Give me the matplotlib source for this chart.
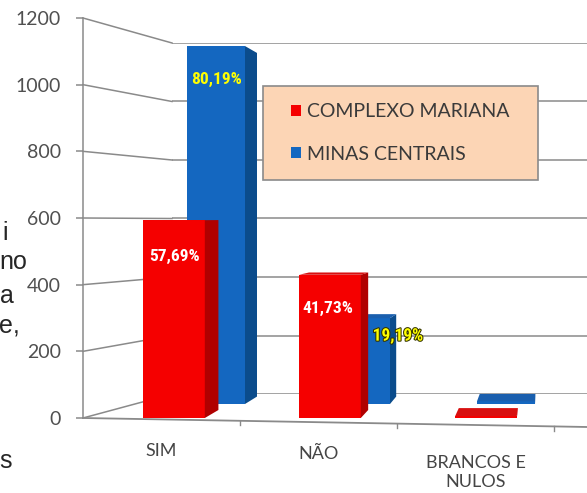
import matplotlib
matplotlib.use('Agg')
import matplotlib.pyplot as plt
from matplotlib.patches import Polygon, Patch, Rectangle
from matplotlib.lines import Line2D
import matplotlib.patheffects as pe
import numpy as np

# ---------------- data ----------------
categories = ['SIM', 'NÃO', 'BRANCOS E\nNULOS']
series_names = ['COMPLEXO MARIANA', 'MINAS CENTRAIS']
mariana_votes = [598, 433, 6]
minas_votes = [1180, 283, 9]
mariana_labels = ['57,69%', '41,73%', '']
minas_labels = ['80,19%', '19,19%', '']
y_ticks = [0, 200, 400, 600, 800, 1000, 1200]
side_text = ['i', 'no', 'a', 'e,', 's']

# ---------------- style ----------------
W, H, DPI = 587, 493, 100
RED, RED_SIDE, RED_TOP = '#F50000', '#B00000', '#D81010'
BLUE, BLUE_SIDE, BLUE_TOP = '#1467C0', '#0B4C8C', '#1A5FAE'
GRID = '#8A8A8A'
TXT = '#505050'
FONT = ['Lato', 'DejaVu Sans']
NARROW = ['Liberation Sans Narrow', 'Roboto Condensed', 'DejaVu Sans']

fig = plt.figure(figsize=(W / DPI, H / DPI), dpi=DPI)


def ax_px(left, right, y0, ytop, z):
    a = fig.add_axes([left / W, (H - y0) / H, (right - left) / W, (y0 - ytop) / H], zorder=z)
    a.patch.set_alpha(0)
    for s in a.spines.values():
        s.set_visible(False)
    a.set_xticks([])
    a.set_yticks([])
    return a


# back wall (gridlines)
wall = ax_px(172, 587, 394, 43, 0)
wall.set_ylim(0, 1200)
wall.set_xlim(0, 1)
for t in y_ticks:
    wall.axhline(t, color=GRID, lw=1.1, zorder=0)

# front frame (axis, ticks, labels)
frame = ax_px(83, 587, 418, 18, 1)
frame.set_ylim(0, 1200)
frame.set_xlim(-0.5, 2.71)
frame.spines['left'].set_visible(True)
frame.spines['left'].set_color(GRID)
frame.spines['left'].set_linewidth(1.1)
frame.set_yticks(y_ticks)
frame.set_yticklabels([str(t) for t in y_ticks], fontsize=14, color=TXT, family=FONT)
frame.tick_params(axis='y', length=5, width=1.1, color=GRID, pad=11)

# sloped floor line and category ticks
floor_drop = -27.0
x0f, x1f = frame.get_xlim()
frame.plot([x0f, x1f], [0, floor_drop], color=GRID, lw=1.3, clip_on=False, zorder=1)
for b in [0.5, 1.5, 2.5]:
    yb = floor_drop * (b - x0f) / (x1f - x0f)
    frame.plot([b, b], [yb, yb - 14], color=GRID, lw=1.0, clip_on=False)
for i, c in enumerate(categories):
    yb = floor_drop * (i - x0f) / (x1f - x0f)
    frame.text(i, yb - 94 - (48 if '\n' in c else 0), c, ha='center', va='center',
               fontsize=13, color='#454545', family=FONT, linespacing=1.25)

# diagonal lines on the left wall
inv = fig.transFigure.inverted()
for t in y_ticks:
    p1 = frame.transData.transform((x0f, t))
    p2 = wall.transData.transform((0, t))
    p1f, p2f = inv.transform(p1), inv.transform(p2)
    fig.add_artist(Line2D([p1f[0], p2f[0]], [p1f[1], p2f[1]], color=GRID, lw=1.1, zorder=0.5))

# bar planes
blue_ax = ax_px(143.5, 578.5, 404, 40, 2)
blue_ax.set_xlim(-0.5, 2.5)
blue_ax.set_ylim(0, 1200)
red_ax = ax_px(96, 564, 418, 21, 3)
red_ax.set_xlim(-0.5, 2.5)
red_ax.set_ylim(0, 1200)

x = np.arange(len(categories))
blue_bars = blue_ax.bar(x, minas_votes, width=0.40, color=BLUE, zorder=2)
red_bars = red_ax.bar(x, mariana_votes, width=0.395, color=RED, zorder=2)

VX, VY = 545, H - 218
K = 0.04


def faces(ax, bars, side_c, top_c):
    invd = ax.transData.inverted()
    for r in bars:
        x0, y0 = r.get_x(), r.get_y()
        x1, y1 = x0 + r.get_width(), y0 + r.get_height()
        BL, BR, TR, TL = [np.array(ax.transData.transform(p)) for p in
                          [(x0, y0), (x1, y0), (x1, y1), (x0, y1)]]
        V = np.array([VX, VY])
        far = lambda p: p + K * (V - p)
        if VX > BR[0]:
            pts = invd.transform([BR, TR, far(TR), far(BR)])
            ax.add_patch(Polygon(pts, closed=True, facecolor=side_c, edgecolor='none', zorder=2))
        if VY > TR[1]:
            pts = invd.transform([TL, TR, far(TR), far(TL)])
            ax.add_patch(Polygon(pts, closed=True, facecolor=top_c, edgecolor='none', zorder=2))


faces(blue_ax, blue_bars, BLUE_SIDE, BLUE_TOP)
faces(red_ax, red_bars, RED_SIDE, RED_TOP)

# percentage labels
minas_offsets = [(0, -33), (37, -18), (0, 0)]
mariana_offsets = [(1, -36), (-2, -34), (0, 0)]
lab_kw = dict(textcoords='offset pixels', ha='center', va='center', fontsize=12.5,
              fontweight='bold', fontstretch='condensed', family=NARROW, zorder=5)
for i, lab in enumerate(minas_labels):
    if lab:
        blue_ax.annotate(lab, (i, minas_votes[i]), xytext=minas_offsets[i], color='#FFFF00',
                         path_effects=[pe.withStroke(linewidth=1.5, foreground='#333300')] if i == 1 else None,
                         **lab_kw)
for i, lab in enumerate(mariana_labels):
    if lab:
        red_ax.annotate(lab, (i, mariana_votes[i]), xytext=mariana_offsets[i], color='white', **lab_kw)

# legend
fig.add_artist(Rectangle((263 / W, 1 - 180 / H), 275 / W, 94 / H, transform=fig.transFigure,
                         facecolor='#FCD5B5', edgecolor='#8A8A8A', lw=1.2, zorder=10))
handles = [Patch(facecolor=RED, edgecolor='none'), Patch(facecolor=BLUE, edgecolor='none')]
leg = fig.legend(handles, series_names, loc='center left', bbox_to_anchor=(291 / W, 1 - 133 / H),
                 frameon=False, borderpad=0, borderaxespad=0, handlelength=0.5, handleheight=0.5,
                 handletextpad=0.3, labelspacing=1.3, prop={'family': FONT, 'size': 14})
leg.set_zorder(11)
for t in leg.get_texts():
    t.set_color('#3A3A3A')

# cropped document text at the left edge
side_pos = [(8, 233), (27, 262), (14, 296), (20, 326), (12, 461)]
for s, (px, py) in zip(side_text, side_pos):
    fig.text(px / W, 1 - py / H, s, ha='right', va='center', fontsize=18, color='#262626',
             family=['Liberation Sans', 'DejaVu Sans'])

fig.savefig('out.png', dpi=DPI)
